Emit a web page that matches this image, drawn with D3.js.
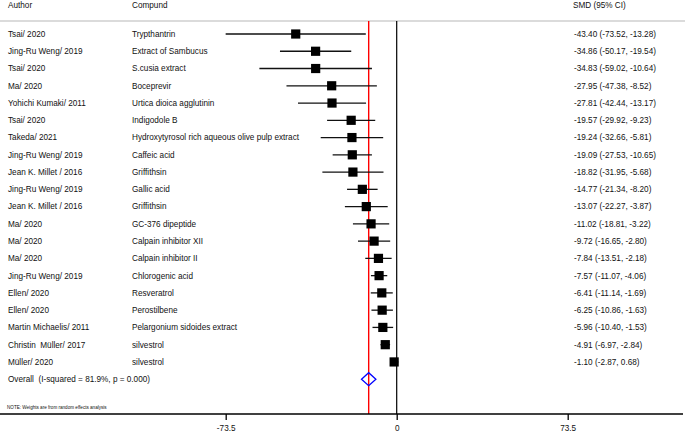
<!DOCTYPE html>
<html><head><meta charset="utf-8">
<script src="https://cdn.jsdelivr.net/npm/d3@7"></script>
<style>body{margin:0;background:#fff}svg{display:block;font-family:"Liberation Sans",Arial,sans-serif}text{white-space:pre}</style>
</head><body><svg id="c" width="685" height="435"></svg>
<script>
const authors = ["Tsai/ 2020","Jing-Ru Weng/ 2019","Tsai/ 2020","Ma/ 2020","Yohichi Kumaki/ 2011","Tsai/ 2020","Takeda/ 2021","Jing-Ru Weng/ 2019","Jean K. Millet / 2016","Jing-Ru Weng/ 2019","Jean K. Millet / 2016","Ma/ 2020","Ma/ 2020","Ma/ 2020","Jing-Ru Weng/ 2019","Ellen/ 2020","Ellen/ 2020","Martin Michaelis/ 2011","Christin  Müller/ 2017","Müller/ 2020"];
const compounds = ["Trypthantrin","Extract of Sambucus","S.cusia extract","Boceprevir","Urtica dioica agglutinin","Indigodole B","Hydroxytyrosol rich aqueous olive pulp extract","Caffeic acid","Griffithsin","Gallic acid","Griffithsin","GC-376 dipeptide","Calpain inhibitor XII","Calpain inhibitor II","Chlorogenic acid","Resveratrol","Perostilbene","Pelargonium sidoides extract","silvestrol","silvestrol"];
const smd = [-43.40,-34.86,-34.83,-27.95,-27.81,-19.57,-19.24,-19.09,-18.82,-14.77,-13.07,-11.02,-9.72,-7.84,-7.57,-6.41,-6.25,-5.96,-4.91,-1.10];
const lower = [-73.52,-50.17,-59.02,-47.38,-42.44,-29.92,-32.66,-27.53,-31.95,-21.34,-22.27,-18.81,-16.65,-13.51,-11.07,-11.14,-10.86,-10.40,-6.97,-2.87];
const upper = [-13.28,-19.54,-10.64,-8.52,-13.17,-9.23,-5.81,-10.65,-5.68,-8.20,-3.87,-3.22,-2.80,-2.18,-4.06,-1.69,-1.63,-1.53,-2.84,0.68];
const overall = {est: -12.04, lo: -15.13, hi: -8.95, label: "Overall  (I-squared = 81.9%, p = 0.000)"};
const tickValues = [-73.5, 0, 73.5];
const headers = ["Author","Compund","SMD (95% CI)"];
const note = "NOTE: Weights are from random effects analysis";

const loc = d3.formatLocale({decimal:".",thousands:",",grouping:[3],currency:["",""],minus:"-"});
const fmt = loc.format(".2f");
const fmt1 = loc.format(".1f");

const svg = d3.select("#c");
const x = d3.scaleLinear().domain([-73.5, 73.5]).range([225.7, 567.7]);
const y = d3.scaleLinear().domain([0, 20]).range([34, 379.2]);
const fs = 8.2;

// header
const hx = [8, 132, 573];
headers.forEach((h,i)=>svg.append("text").attr("x",hx[i]).attr("y",5).attr("dy","0.35em").attr("font-size",fs).attr("fill","#111").text(h));
svg.append("line").attr("x1",0).attr("x2",685).attr("y1",21).attr("y2",21).attr("stroke","#cfcfcf").attr("stroke-width",1.4);

// vertical lines
svg.append("line").attr("x1",x(0)).attr("x2",x(0)).attr("y1",21).attr("y2",414).attr("stroke","#000").attr("stroke-width",1.2);
svg.append("line").attr("x1",x(overall.est)).attr("x2",x(overall.est)).attr("y1",21).attr("y2",414).attr("stroke","#ff0000").attr("stroke-width",1.4);

// rows text
const g = svg.append("g").attr("font-size",fs).attr("fill","#111");
authors.forEach((a,i)=>{
  g.append("text").attr("x",8).attr("y",y(i)).attr("dy","0.35em").text(a);
  g.append("text").attr("x",132).attr("y",y(i)).attr("dy","0.35em").text(compounds[i]);
  g.append("text").attr("x",574).attr("y",y(i)).attr("dy","0.35em").text(`${fmt(smd[i])} (${fmt(lower[i])}, ${fmt(upper[i])})`);
});
g.append("text").attr("x",8).attr("y",y(20)).attr("dy","0.35em").text(overall.label);

// CI lines and squares
svg.selectAll("line.ci").data(smd).join("line").attr("class","ci")
  .attr("x1",(d,i)=>x(lower[i])).attr("x2",(d,i)=>x(upper[i]))
  .attr("y1",(d,i)=>y(i)).attr("y2",(d,i)=>y(i)).attr("stroke","#111").attr("stroke-width",1.3);
const sq = 9.2;
svg.selectAll("rect.pt").data(smd).join("rect").attr("class","pt")
  .attr("x",d=>x(d)-sq/2).attr("y",(d,i)=>y(i)-sq/2).attr("width",sq).attr("height",sq).attr("fill","#000");

// diamond
const yo = y(20), dh = 6.5;
svg.append("path").attr("d",`M${x(overall.lo)},${yo}L${x(overall.est)},${yo-dh}L${x(overall.hi)},${yo}L${x(overall.est)},${yo+dh}Z`)
  .attr("fill","none").attr("stroke","#0000ff").attr("stroke-width",1.3);

// note
svg.append("text").attr("x",7).attr("y",407).attr("dy","0.35em").attr("font-size",4.6).attr("fill","#111").text(note);

// axis
svg.append("line").attr("x1",0).attr("x2",683).attr("y1",414).attr("y2",414).attr("stroke","#000").attr("stroke-width",1.3);
const ax = svg.append("g").attr("transform","translate(0,414)")
  .call(d3.axisBottom(x).tickValues(tickValues).tickFormat(d=>d===0?"0":fmt1(d)).tickSize(6).tickSizeOuter(0).tickPadding(5));
ax.select(".domain").remove();
ax.selectAll("line").attr("stroke","#000").attr("stroke-width",1.3);
ax.selectAll("text").attr("font-size",fs).attr("fill","#111").attr("font-family","Liberation Sans, Arial, sans-serif");
</script></body></html>
